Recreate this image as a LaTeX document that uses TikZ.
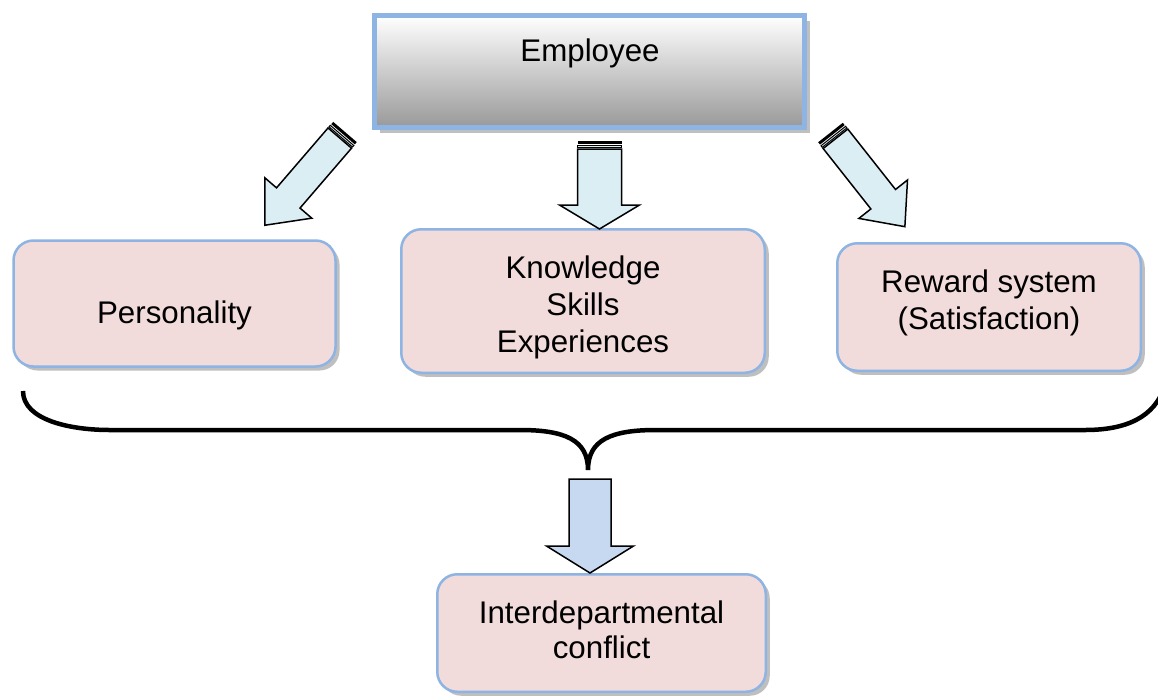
\documentclass[tikz,border=0pt]{standalone}
\usepackage{fontspec}
\setmainfont{Liberation Sans}
\usetikzlibrary{shadows}
\definecolor{bordblue}{HTML}{8EB4E3}
\definecolor{pinkfill}{HTML}{F2DCDB}
\definecolor{cyanfill}{HTML}{DBEEF4}
\definecolor{bluefill}{HTML}{C6D9F1}
\newcommand\stripedarrow[8]{%
 \begin{scope}[shift={(#1,#2)},rotate=#3]
  \fill[black] (0,-#5) rectangle (3,#5);
  \filldraw[fill=#8,draw=black,line width=1pt] (4.5,-#5) rectangle (6.5,#5);
  \filldraw[fill=#8,draw=black,line width=1.5pt,line join=miter] (8,-#5) -- (#4-#7,-#5) -- (#4-#7,-#6) -- (#4,0) -- (#4-#7,#6) -- (#4-#7,#5) -- (8,#5) -- cycle;
 \end{scope}}
\newcommand\plainarrow[8]{%
 \begin{scope}[shift={(#1,#2)},rotate=#3]
  \filldraw[fill=#8,draw=black,line width=1.5pt,line join=miter] (0,-#5) -- (#4-#7,-#5) -- (#4-#7,-#6) -- (#4,0) -- (#4-#7,#6) -- (#4-#7,#5) -- (0,#5) -- cycle;
 \end{scope}}
\tikzset{
  empbox/.style={draw=bordblue, line width=5pt, top color=white, bottom color=black!40,
    minimum width=430pt, minimum height=112pt, inner sep=0pt,
    drop shadow={shadow xshift=5pt, shadow yshift=-5pt, fill=black!25, opacity=1}},
  pinkbox/.style={draw=bordblue, line width=2.5pt, fill=pinkfill, rounded corners=20pt, inner sep=0pt,
    drop shadow={shadow xshift=4pt, shadow yshift=-4pt, fill=black!25, opacity=1}},
  lbl/.style={font=\fontsize{31.3}{37}\selectfont, align=center, inner sep=0pt}
}
\begin{document}
\begin{tikzpicture}[x=1pt,y=-1pt]
\useasboundingbox (0,0) rectangle (1158,697);
\fill[white] (0,0) rectangle (1158,697);
% top box
\node[empbox] (emp) at (589.5,71.5) {};
\node[lbl] (empt) at (590,53) {Employee};
% middle boxes
\node[pinkbox, minimum width=322pt, minimum height=126pt] (pers) at (174.5,303.5) {};
\node[lbl] (perst) at (174.5,315) {Personality};
\node[pinkbox, minimum width=363.5pt, minimum height=143.5pt] (know) at (583,301) {};
\node[lbl] (knowt) at (583,307.5) {Knowledge\\Skills\\Experiences};
\node[pinkbox, minimum width=303.5pt, minimum height=127.5pt] (rew) at (989,307) {};
\node[lbl] (rewt) at (989,303) {Reward system\\(Satisfaction)};
% bottom box
\node[pinkbox, minimum width=328.5pt, minimum height=117.5pt] (conf) at (601.5,633) {};
\node[lbl, font=\fontsize{31.3}{35.5}\selectfont] (conft) at (601.5,630) {Interdepartmental\\conflict};
% block arrows
\stripedarrow{345}{132}{-130.7}{123}{15.5}{31}{36}{cyanfill}
\stripedarrow{599.5}{141}{-90}{88}{22}{40}{24}{cyanfill}
\stripedarrow{830.5}{132.5}{-51.7}{120}{15.7}{31}{35}{cyanfill}
\plainarrow{590}{479}{-90}{94}{21}{43.5}{27}{bluefill}
% brace
\draw[line width=4.5pt] (23,391) .. controls (23,420) and (70,430) .. (110,430) -- (520,430)
  .. controls (565,430) and (588,440) .. (588,470)
  .. controls (588,440) and (611,430) .. (656,430) -- (1085,430)
  .. controls (1125,430) and (1155,418) .. (1165,385);
\end{tikzpicture}
\end{document}
